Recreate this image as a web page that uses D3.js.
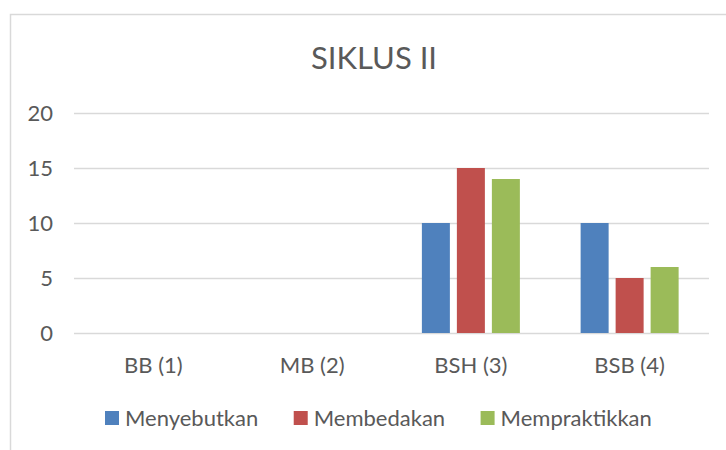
<!DOCTYPE html>
<html><head><meta charset="utf-8">
<script src="https://cdn.jsdelivr.net/npm/d3@7"></script>
<style>html,body{margin:0;padding:0;background:#fff;} svg{display:block;font-family:Lato,"Open Sans",sans-serif;}</style>
</head><body>
<svg id="c" width="726" height="450"></svg>
<script>
const categories = ["BB (1)", "MB (2)", "BSH (3)", "BSB (4)"];
const seriesNames = ["Menyebutkan", "Membedakan", "Mempraktikkan"];
const menyebutkan = [0, 0, 10, 10];
const membedakan = [0, 0, 15, 5];
const mempraktikkan = [0, 0, 14, 6];
const yTicks = [0, 5, 10, 15, 20];
const title = "SIKLUS II";
const colors = ["#4F81BD", "#C0504D", "#9BBB59"];

const seriesValues = [menyebutkan, membedakan, mempraktikkan];
const svg = d3.select("#c");
const textColor = "#595959";
const gridColor = "#d9d9d9";
const fs = 22;

// chart border
svg.append("rect").attr("x", 10.5).attr("y", 14.5).attr("width", 730).attr("height", 450)
  .attr("fill", "none").attr("stroke", gridColor).attr("stroke-width", 1.5);

const x = d3.scaleBand().domain(categories).range([74, 709]);
const xi = d3.scaleBand().domain(seriesNames).range([0, x.bandwidth()]).paddingInner(0.2).paddingOuter(0.868);
const y = d3.scaleLinear().domain([0, 20]).range([333, 113]);

// gridlines + y labels
const yAxis = d3.axisLeft(y).tickValues(yTicks).tickSize(-(709 - 74));
const gy = svg.append("g").attr("transform", "translate(74,0)").call(yAxis);
gy.select(".domain").remove();
gy.selectAll(".tick line").attr("stroke", gridColor).attr("stroke-width", 1.5);
gy.selectAll(".tick text").attr("fill", textColor).attr("font-size", fs)
  .attr("font-family", "Lato").attr("x", -21);

// bars
const groups = svg.append("g").selectAll("g").data(seriesNames).join("g")
  .attr("fill", (d, i) => colors[i]);
groups.selectAll("rect").data((s, si) => categories.map((c, ci) => ({c, s, v: seriesValues[si][ci]})))
  .join("rect")
  .attr("x", d => x(d.c) + xi(d.s))
  .attr("y", d => y(d.v))
  .attr("width", xi.bandwidth())
  .attr("height", d => y(0) - y(d.v));

// x labels
const xAxis = d3.axisBottom(x).tickSize(0).tickPadding(0);
const gx = svg.append("g").attr("transform", "translate(0,333)").call(xAxis);
gx.select(".domain").remove();
gx.selectAll(".tick text").attr("fill", textColor).attr("font-size", fs)
  .attr("font-family", "Lato").attr("dy", null).attr("y", 40);

// title
svg.append("text").attr("x", 374).attr("y", 69).attr("text-anchor", "middle")
  .attr("fill", textColor).attr("font-size", 31).text(title);

// legend
const leg = svg.append("g");
let lx = 105;
seriesNames.forEach((n, i) => {
  leg.append("rect").attr("x", lx).attr("y", 411).attr("width", 14).attr("height", 14).attr("fill", colors[i]);
  const t = leg.append("text").attr("x", lx + 20).attr("y", 426).attr("fill", textColor)
    .attr("font-size", fs).text(n);
  lx += 20 + t.node().getComputedTextLength() + 35.5;
});
</script>
</body></html>
